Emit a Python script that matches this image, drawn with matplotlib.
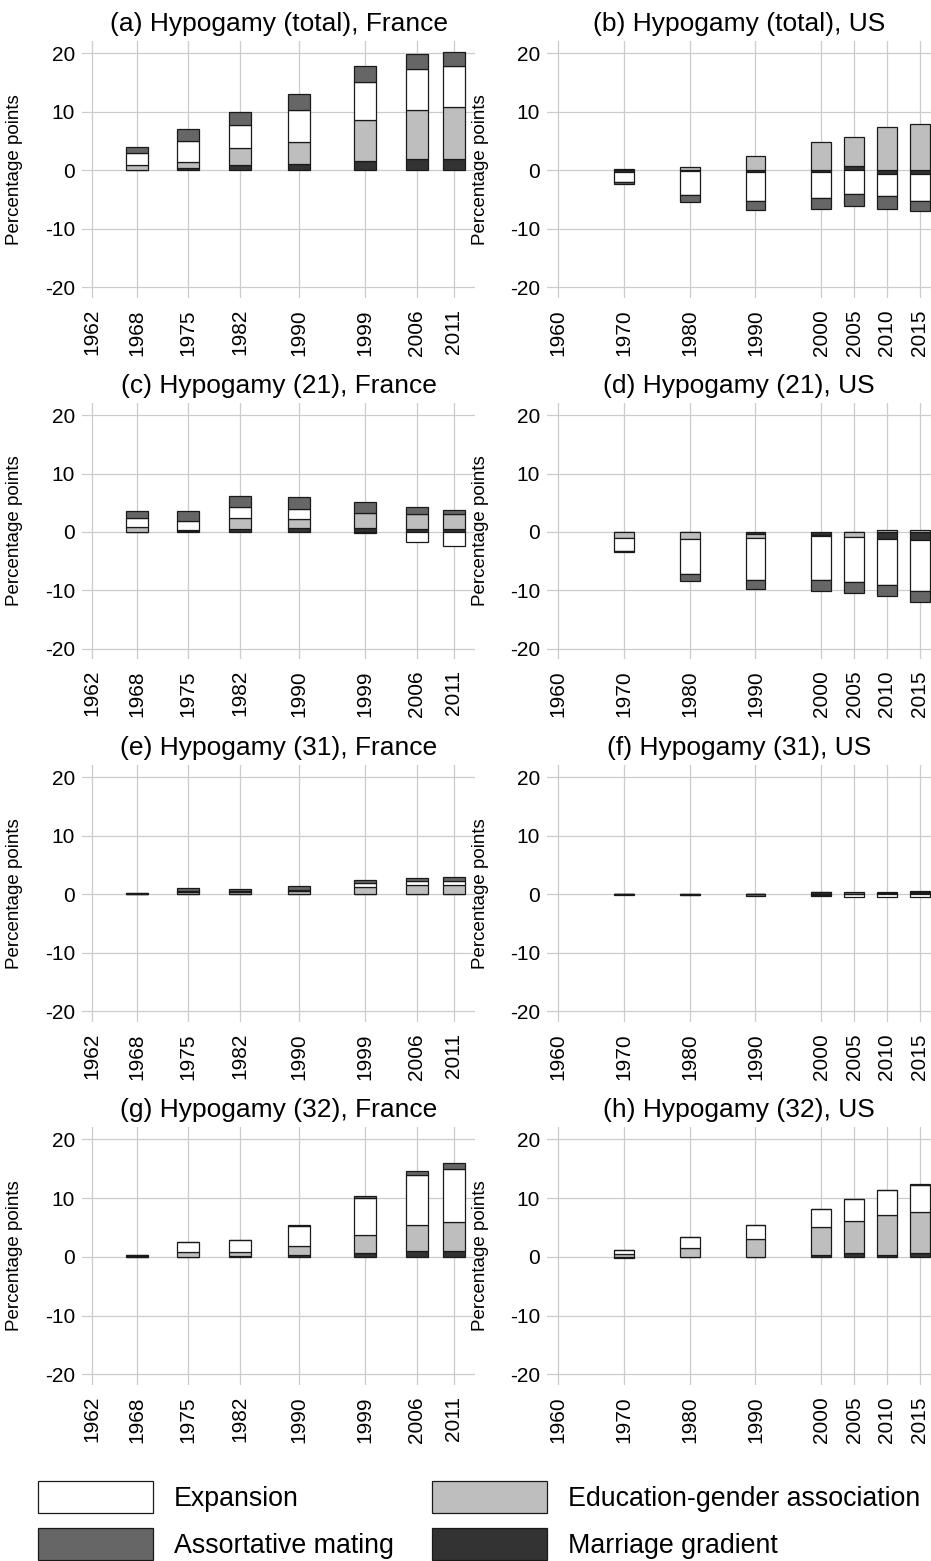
import matplotlib
matplotlib.use('Agg')
import matplotlib.pyplot as plt
from matplotlib.patches import Patch
import numpy as np

plt.rcParams['font.family'] = ['Liberation Sans', 'DejaVu Sans']

# ---------------- data ----------------
fr_years = [1968, 1975, 1982, 1990, 1999, 2006, 2011]
us_years = [1970, 1980, 1990, 2000, 2005, 2010, 2015]
fr_ticks = [1962, 1968, 1975, 1982, 1990, 1999, 2006, 2011]
us_ticks = [1960, 1970, 1980, 1990, 2000, 2005, 2010, 2015]
y_ticks = [-20, -10, 0, 10, 20]

components = ["Expansion", "Education-gender association", "Assortative mating", "Marriage gradient"]

# (a) Hypogamy (total), France
a_mg  = [0.05, 0.45, 0.85, 1.1, 1.6, 2.0, 2.0]
a_edu = [0.95, 1.05, 2.9, 3.75, 7.0, 8.3, 8.9]
a_exp = [1.9, 3.5, 4.05, 5.45, 6.5, 7.1, 7.0]
a_asm = [1.1, 2.1, 2.2, 2.75, 2.8, 2.4, 2.4]

# (b) Hypogamy (total), US
b_mg  = [-0.35, -0.15, -0.3, -0.3, 0.7, -0.7, -0.7]
b_edu = [0.2, 0.5, 2.5, 4.9, 5.0, 7.4, 7.9]
b_exp = [-1.65, -4.1, -5.0, -4.5, -4.1, -3.7, -4.5]
b_asm = [-0.4, -1.15, -1.45, -1.85, -2.0, -2.2, -1.8]

# (c) Hypogamy (21), France
c_mg  = [0.05, 0.2, 0.45, 0.6, 0.7, 0.5, 0.45]
c_edu = [0.85, 0.1, 1.95, 1.6, 2.6, 2.6, 2.65]
c_exp = [1.5, 1.6, 1.9, 1.7, -0.2, -1.8, -2.5]
c_asm = [1.1, 1.6, 1.8, 2.1, 1.9, 1.1, 0.6]

# (d) Hypogamy (21), US
d_mg  = [-0.1, -0.1, -0.3, -0.5, -0.1, -1.2, -1.4]
d_edu = [-0.9, -1.1, -0.8, -0.2, -0.7, 0.25, 0.3]
d_exp = [-2.3, -6.1, -7.2, -7.6, -7.8, -7.9, -8.8]
d_asm = [-0.2, -1.05, -1.45, -1.9, -1.85, -1.85, -1.8]

# (e) Hypogamy (31), France
e_mg  = [0.02, 0.05, 0.05, 0.05, 0.05, 0.15, 0.15]
e_edu = [0.03, 0.35, 0.3, 0.45, 1.15, 1.5, 1.5]
e_exp = [0.2, 0.2, 0.15, 0.3, 0.7, 0.55, 0.65]
e_asm = [0.0, 0.5, 0.4, 0.65, 0.5, 0.6, 0.7]

# (f) Hypogamy (31), US
f_mg  = [-0.05, -0.05, 0.15, 0.4, 0.1, 0.1, 0.2]
f_edu = [0.0, 0.0, 0.0, 0.0, 0.0, 0.2, 0.15]
f_exp = [0.0, 0.0, 0.0, -0.1, -0.45, -0.45, -0.45]
f_asm = [0.0, -0.1, -0.2, -0.2, 0.3, 0.15, 0.25]

# (g) Hypogamy (32), France
g_mg  = [0.05, 0.05, 0.1, 0.3, 0.6, 1.0, 1.0]
g_edu = [0.1, 0.75, 0.8, 1.6, 3.2, 4.5, 5.0]
g_exp = [0.2, 1.7, 1.9, 3.4, 6.25, 8.4, 9.0]
g_asm = [0.05, 0.1, 0.15, 0.1, 0.35, 0.7, 1.0]

# (h) Hypogamy (32), US
h_mg  = [-0.2, 0.0, 0.0, 0.3, 0.6, 0.4, 0.6]
h_edu = [0.5, 1.5, 3.0, 4.7, 5.5, 6.7, 7.0]
h_exp = [0.6, 1.8, 2.5, 3.2, 3.7, 4.3, 4.7]
h_asm = [0.0, 0.0, 0.0, 0.0, 0.0, 0.0, 0.05]

# ---------------- style ----------------
col_exp = 'white'
col_edu = '#bebebe'
col_asm = '#666666'
col_mg = '#333333'
grid_col = '#cccccc'
edge_col = '#1a1a1a'

W, H = 931, 1561
fig = plt.figure(figsize=(W / 100, H / 100), dpi=100)


def px_axes(x0, y0, x1, y1):
    return fig.add_axes([x0 / W, 1 - y1 / H, (x1 - x0) / W, (y1 - y0) / H])


def draw(ax, years, mg, edu, exp, asm, ticks, xlim, title):
    pos = np.zeros(len(years))
    neg = np.zeros(len(years))
    for vals, color in [(mg, col_mg), (edu, col_edu), (exp, col_exp), (asm, col_asm)]:
        v = np.array(vals, dtype=float)
        bottom = np.where(v >= 0, pos, neg)
        ax.bar(years, v, width=3, bottom=bottom, color=color,
               edgecolor=edge_col, linewidth=0.9, zorder=3)
        pos += np.where(v >= 0, v, 0)
        neg += np.where(v < 0, v, 0)
    ax.set_xticks(ticks)
    ax.set_xticklabels([str(t) for t in ticks], rotation=90)
    ax.set_yticks(y_ticks)
    ax.set_yticklabels([str(t) for t in y_ticks])
    ax.set_xlim(*xlim)
    ax.set_ylim(-21.8, 22.1)
    ax.grid(True, color=grid_col, linewidth=0.9)
    ax.set_axisbelow(True)
    for s in ax.spines.values():
        s.set_visible(False)
    ax.tick_params(axis='both', length=0, labelsize=15, colors='black')
    ax.tick_params(axis='y', pad=5)
    ax.tick_params(axis='x', pad=8)
    ax.set_title(title, fontsize=19, pad=7)
    ax.set_ylabel('Percentage points', fontsize=13.5)
    ax.yaxis.set_label_coords(-0.15, 0.5)


rows = [(41, 298), (403, 659), (765, 1022), (1127, 1385)]
left_x = (82, 475)
right_x = (547, 931)
fr_xlim = (1960.6, 2013.9)
us_xlim = (1958.3, 2016.7)

panels = [
    (a_mg, a_edu, a_exp, a_asm, "(a) Hypogamy (total), France",
     b_mg, b_edu, b_exp, b_asm, "(b) Hypogamy (total), US"),
    (c_mg, c_edu, c_exp, c_asm, "(c) Hypogamy (21), France",
     d_mg, d_edu, d_exp, d_asm, "(d) Hypogamy (21), US"),
    (e_mg, e_edu, e_exp, e_asm, "(e) Hypogamy (31), France",
     f_mg, f_edu, f_exp, f_asm, "(f) Hypogamy (31), US"),
    (g_mg, g_edu, g_exp, g_asm, "(g) Hypogamy (32), France",
     h_mg, h_edu, h_exp, h_asm, "(h) Hypogamy (32), US"),
]

for (y0, y1), p in zip(rows, panels):
    axl = px_axes(left_x[0], y0, left_x[1], y1)
    draw(axl, fr_years, p[0], p[1], p[2], p[3], fr_ticks, fr_xlim, p[4])
    axr = px_axes(right_x[0], y0, right_x[1], y1)
    draw(axr, us_years, p[5], p[6], p[7], p[8], us_ticks, us_xlim, p[9])

handles = [
    Patch(facecolor=col_exp, edgecolor=edge_col, linewidth=0.9, label=components[0]),
    Patch(facecolor=col_asm, edgecolor=edge_col, linewidth=0.9, label=components[2]),
    Patch(facecolor=col_edu, edgecolor=edge_col, linewidth=0.9, label=components[1]),
    Patch(facecolor=col_mg, edgecolor=edge_col, linewidth=0.9, label=components[3]),
]
fig.legend(handles=handles, ncol=2, loc='upper left',
           bbox_to_anchor=(38 / W, 1 - 1481 / H), frameon=False,
           fontsize=19.3, handlelength=4.3, handleheight=1.46,
           handletextpad=0.78, columnspacing=1.42, labelspacing=0.55,
           borderpad=0, borderaxespad=0)

fig.savefig('out.png', dpi=100)
